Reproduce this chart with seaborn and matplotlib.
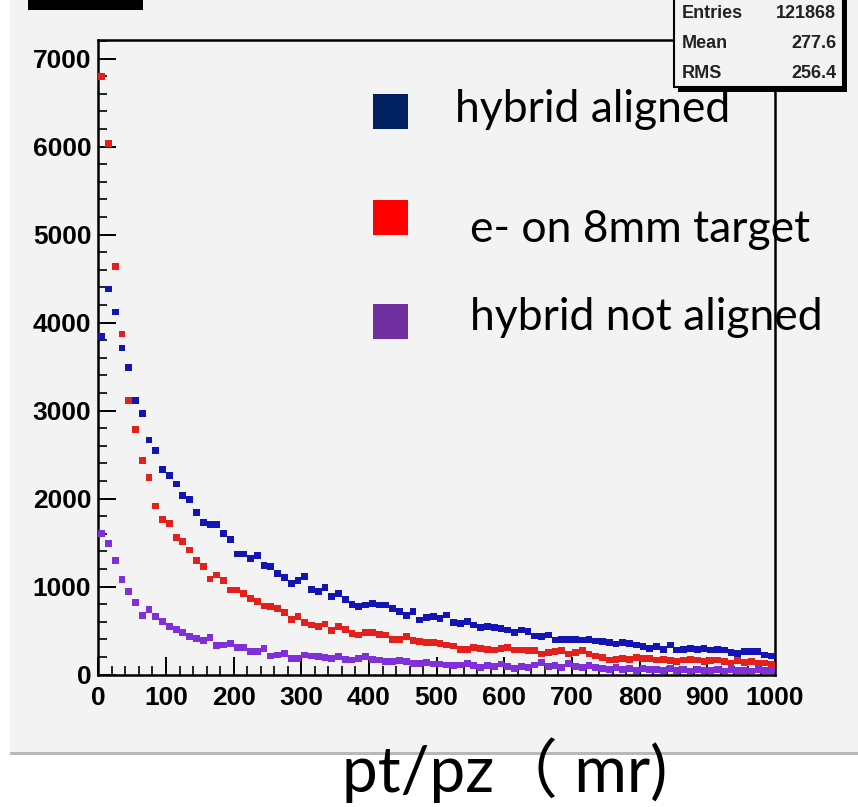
import numpy as np
import pandas as pd
import matplotlib
matplotlib.use("Agg")
import matplotlib.pyplot as plt
from matplotlib.ticker import MultipleLocator
from matplotlib.patches import Rectangle
import seaborn as sns

# ---------------- data (bin contents, 10 mr bins from 0 to 1000) ----------------
bin_centers = list(range(5, 1000, 10))

hybrid_aligned = [
    3840, 4380, 4120, 3710, 3490, 3110, 2970, 2665, 2545, 2330,
    2265, 2165, 2030, 1985, 1840, 1725, 1700, 1700, 1605, 1530,
    1370, 1370, 1320, 1350, 1235, 1225, 1150, 1105, 1035, 1065,
    1110, 970, 940, 990, 890, 925, 855, 800, 770, 790,
    810, 790, 790, 750, 715, 675, 715, 620, 645, 657,
    638, 676, 590, 575, 600, 563, 536, 543, 536, 525,
    506, 475, 506, 486, 437, 430, 449, 392, 400, 400,
    400, 392, 400, 380, 373, 361, 347, 361, 354, 335,
    316, 297, 316, 286, 335, 278, 286, 297, 286, 297,
    278, 286, 278, 248, 241, 259, 259, 259, 222, 210,
]

e_on_8mm_target = [
    6800, 6030, 4640, 3870, 3110, 2780, 2430, 2240, 1915, 1765,
    1720, 1560, 1510, 1415, 1300, 1225, 1085, 1130, 1065, 960,
    960, 925, 865, 827, 778, 770, 752, 702, 627, 657,
    590, 563, 543, 574, 498, 543, 514, 468, 449, 475,
    475, 457, 449, 400, 400, 430, 384, 378, 361, 361,
    354, 335, 324, 286, 282, 309, 298, 286, 278, 298,
    309, 278, 278, 271, 271, 233, 248, 259, 271, 233,
    248, 271, 233, 210, 190, 165, 175, 185, 175, 190,
    180, 185, 165, 170, 160, 150, 165, 170, 165, 150,
    160, 165, 150, 130, 155, 135, 145, 125, 130, 120,
]

hybrid_not_aligned = [
    1605, 1485, 1295, 1080, 940, 820, 675, 735, 655, 600,
    545, 515, 475, 430, 410, 390, 425, 325, 335, 355,
    310, 310, 260, 260, 295, 210, 222, 241, 184, 184,
    222, 210, 203, 195, 184, 203, 172, 165, 184, 203,
    172, 165, 146, 146, 155, 146, 127, 125, 134, 119,
    119, 108, 100, 108, 127, 100, 82, 100, 90, 119,
    90, 70, 90, 82, 108, 134, 90, 100, 82, 127,
    90, 82, 100, 82, 70, 60, 75, 55, 65, 50,
    70, 55, 60, 45, 65, 50, 55, 40, 60, 45,
    50, 60, 40, 55, 45, 50, 40, 55, 45, 50,
]

series_names = ["hybrid aligned", "e- on 8mm target", "hybrid not aligned"]
legend_labels = ["hybrid aligned", "e- on 8mm target", "hybrid not aligned"]
stats_labels = ["Entries", "Mean", "RMS"]
stats_values = ["121868", "277.6", "256.4"]
x_label = "pt/pz\uff08 mr)"

marker_colors = {"hybrid aligned": "#1414b4",
                 "e- on 8mm target": "#e3201c",
                 "hybrid not aligned": "#8030d8"}
legend_colors = ["#002060", "#ff0000", "#7030a0"]

df = pd.concat([
    pd.DataFrame({"x": bin_centers, "count": hybrid_aligned, "series": series_names[0]}),
    pd.DataFrame({"x": bin_centers, "count": e_on_8mm_target, "series": series_names[1]}),
    pd.DataFrame({"x": bin_centers, "count": hybrid_not_aligned, "series": series_names[2]}),
], ignore_index=True)

# ---------------- figure ----------------
W, H = 858, 807
fig = plt.figure(figsize=(W / 100, H / 100), dpi=100)
fig.patch.set_facecolor("white")

def fx(px):
    return px / W

def fy(py):
    return 1 - py / H

BG = "#f3f3f3"
# ROOT canvas background
fig.add_artist(Rectangle((fx(10), fy(755)), fx(W) - fx(10), fy(0) - fy(755) + 0.01,
                         transform=fig.transFigure, facecolor="#b8b8b8", edgecolor="none", zorder=0))
fig.add_artist(Rectangle((fx(10), fy(752)), fx(W) - fx(10), fy(0) - fy(752) + 0.01,
                         transform=fig.transFigure, facecolor=BG, edgecolor="none", zorder=0))

ax_l, ax_r, ax_t, ax_b = 98.3, 775, 40, 674.5
ax = fig.add_axes([fx(ax_l), fy(ax_b), fx(ax_r) - fx(ax_l), fy(ax_t) - fy(ax_b)])
ax.set_facecolor(BG)

sns.scatterplot(data=df, x="x", y="count", hue="series", palette=marker_colors,
                marker="s", s=24, linewidth=0, legend=False, ax=ax, zorder=3)

ax.set_xlim(0, 1000)
ax.set_ylim(0, (ax_b - ax_t) / 0.088)
ax.set_xlabel("")
ax.set_ylabel("")
ax.xaxis.set_major_locator(MultipleLocator(100))
ax.xaxis.set_minor_locator(MultipleLocator(20))
ax.yaxis.set_major_locator(MultipleLocator(1000))
ax.yaxis.set_minor_locator(MultipleLocator(200))
ax.tick_params(axis="both", which="major", direction="in", length=13, width=1.4,
               top=False, right=False, colors="black")
ax.tick_params(axis="both", which="minor", direction="in", length=6.5, width=1.2,
               top=False, right=False)
ax.tick_params(axis="y", which="major", pad=5)
ax.tick_params(axis="x", which="major", pad=8)
for lab in ax.get_xticklabels() + ax.get_yticklabels():
    lab.set_fontfamily("Liberation Sans")
    lab.set_fontweight("bold")
    lab.set_fontsize(19)
for sp in ax.spines.values():
    sp.set_color("black")
    sp.set_linewidth(1.8)

# ---------------- ROOT title box remnant ----------------
fig.add_artist(Rectangle((fx(28), fy(10)), fx(143) - fx(28), fy(0) - fy(10) + 0.01,
                         transform=fig.transFigure, facecolor="black", edgecolor="none", zorder=5))

# ---------------- stats box ----------------
fig.add_artist(Rectangle((fx(678), fy(92)), fx(847) - fx(678), fy(0) - fy(92) + 0.01,
                         transform=fig.transFigure, facecolor="black", edgecolor="none", zorder=6))
fig.add_artist(Rectangle((fx(674), fy(87)), fx(843) - fx(674), fy(-5) - fy(87),
                         transform=fig.transFigure, facecolor=BG, edgecolor="black",
                         linewidth=1.5, zorder=7))
for i, (lab, val) in enumerate(zip(stats_labels, stats_values)):
    yy = 14 + i * 29.5
    fig.text(fx(682), fy(yy), lab, ha="left", va="center", fontsize=13,
             fontweight="bold", family="Liberation Sans", color="#222222", zorder=8)
    fig.text(fx(836), fy(yy), val, ha="right", va="center", fontsize=13,
             fontweight="bold", family="Liberation Sans", color="#222222", zorder=8)

# ---------------- legend (slide overlay) ----------------
sq_y = [111, 217, 321]
txt_x = [455, 470, 470]
txt_base = [122, 242, 330]
for c, sy, lab, tx, ty in zip(legend_colors, sq_y, legend_labels, txt_x, txt_base):
    fig.add_artist(Rectangle((fx(373), fy(sy + 17.5)), fx(35), fy(0) - fy(35),
                             transform=fig.transFigure, facecolor=c, edgecolor="none", zorder=9))
    fig.text(fx(tx), fy(ty), lab, ha="left", va="baseline", fontsize=32,
             family="Lato", color="black", zorder=10)

# ---------------- x-axis caption ----------------
fig.text(fx(342), fy(792), x_label, ha="left", va="baseline", fontsize=46,
         family=["Lato", "Noto Sans CJK SC"], color="black", zorder=10)

fig.savefig("out.png", dpi=100, facecolor=fig.get_facecolor())
